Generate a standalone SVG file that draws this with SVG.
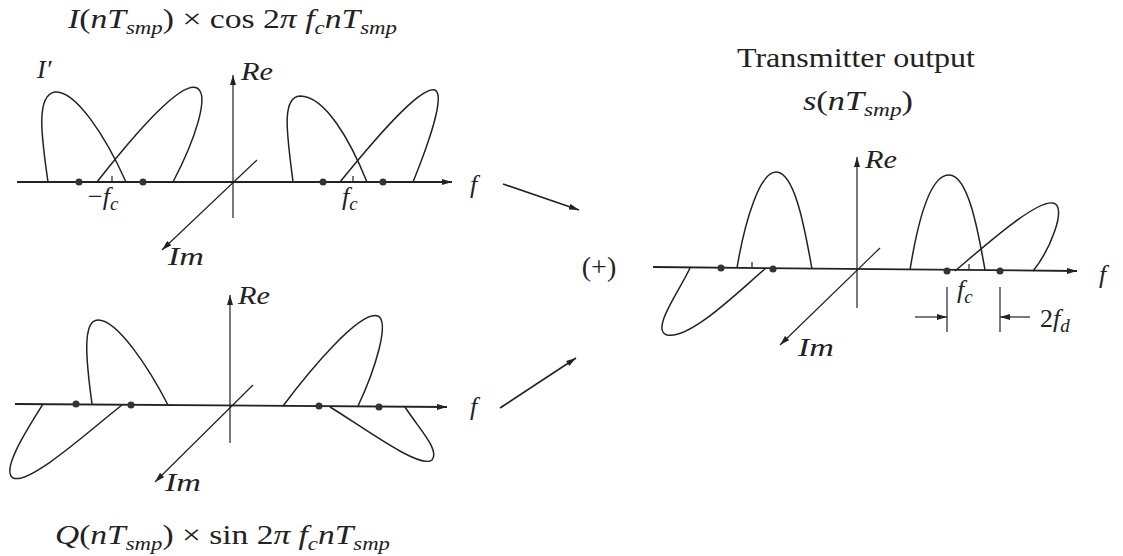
<svg xmlns="http://www.w3.org/2000/svg" width="1123" height="556" viewBox="0 0 1123 556">
<defs>
<marker id="ah" viewBox="0 0 10 6" refX="10" refY="3" markerWidth="10" markerHeight="6" markerUnits="userSpaceOnUse" orient="auto">
<path d="M0,0 L10,3 L0,6 Z" fill="#222"/>
</marker>
</defs>
<style>
text{font-family:"Liberation Serif","DejaVu Serif",serif;fill:#222;}
.t{font-size:28px;}
.l{font-size:26px;font-style:italic;}
.i{font-style:italic;}
.s{font-size:19px;font-style:italic;}
.ax{stroke:#222;stroke-width:1.8;fill:none;}
.ax2{stroke:#222;stroke-width:1.2;fill:none;}
.lobe{stroke:#222;stroke-width:1.5;fill:none;}
.dot{fill:#333;}
.cn{stroke:#222;stroke-width:1.6;fill:none;}
</style>
<rect width="1123" height="556" fill="#fff"/>

<g id="panel-i">
<text class="t" x="68" y="28" textLength="329" lengthAdjust="spacingAndGlyphs"><tspan class="i">I</tspan>(<tspan class="i">nT</tspan><tspan class="s" dy="6">smp</tspan><tspan dy="-6">) × cos 2</tspan><tspan class="i">π f</tspan><tspan class="s" dy="6">c</tspan><tspan class="i" dy="-6">nT</tspan><tspan class="s" dy="6">smp</tspan></text>
<line class="ax" x1="17" y1="182" x2="452" y2="182" marker-end="url(#ah)"/>
<line class="ax2" x1="233" y1="218" x2="233" y2="75" marker-end="url(#ah)"/>
<line class="ax2" x1="257" y1="160" x2="162" y2="250" marker-end="url(#ah)"/>
<path class="lobe" d="M48,182 C42,140 35,95 55,92 C75,90 105,135 126,182"/>
<path class="lobe" d="M97,182 C130,140 180,80 197,88 C210,95 195,140 173,182"/>
<path class="lobe" d="M293,182 C288,140 280,97 300,96 C325,96 350,140 367,182"/>
<path class="lobe" d="M340,182 C370,145 420,85 435,90 C445,95 430,140 413,182"/>
<line class="ax2" x1="112" y1="182" x2="112" y2="176"/>
<line class="ax2" x1="353" y1="182" x2="353" y2="176"/>
<circle class="dot" cx="79" cy="182" r="3.5"/>
<circle class="dot" cx="143" cy="182" r="3.5"/>
<circle class="dot" cx="323" cy="182" r="3.5"/>
<circle class="dot" cx="383" cy="182" r="3.5"/>
<text class="l" x="37" y="78">I′</text>
<text class="l" x="241" y="80" textLength="32" lengthAdjust="spacingAndGlyphs">Re</text>
<text class="l" x="168" y="265" textLength="36" lengthAdjust="spacingAndGlyphs">Im</text>
<text class="l" x="470" y="193">f</text>
<text class="l" x="88" y="205"><tspan font-style="normal">−</tspan>f<tspan class="s" dy="5">c</tspan></text>
<text class="l" x="342" y="205">f<tspan class="s" dy="5">c</tspan></text>
</g>

<g id="panel-q">
<line class="ax" x1="15" y1="404" x2="447" y2="407" marker-end="url(#ah)"/>
<line class="ax2" x1="230" y1="443" x2="230" y2="295" marker-end="url(#ah)"/>
<line class="ax2" x1="253" y1="385" x2="155" y2="482" marker-end="url(#ah)"/>
<path class="lobe" d="M92,404 C86,360 82,320 98,320 C118,320 150,370 168,405"/>
<path class="lobe" d="M43,404 C30,425 0,470 13,478 C30,485 90,430 122,405"/>
<path class="lobe" d="M283,406 C310,370 360,310 378,316 C390,322 375,370 358,406"/>
<path class="lobe" d="M330,407 C360,425 420,470 432,460 C440,450 420,430 405,407"/>
<circle class="dot" cx="76" cy="404" r="3.5"/>
<circle class="dot" cx="131" cy="405" r="3.5"/>
<circle class="dot" cx="319" cy="406" r="3.5"/>
<circle class="dot" cx="379" cy="407" r="3.5"/>
<text class="l" x="238" y="304" textLength="32" lengthAdjust="spacingAndGlyphs">Re</text>
<text class="l" x="165" y="491" textLength="36" lengthAdjust="spacingAndGlyphs">Im</text>
<text class="l" x="470" y="415">f</text>
<text class="t" x="55" y="544" textLength="335" lengthAdjust="spacingAndGlyphs"><tspan class="i">Q</tspan>(<tspan class="i">nT</tspan><tspan class="s" dy="6">smp</tspan><tspan dy="-6">) × sin 2</tspan><tspan class="i">π f</tspan><tspan class="s" dy="6">c</tspan><tspan class="i" dy="-6">nT</tspan><tspan class="s" dy="6">smp</tspan></text>
</g>

<g id="sum">
<text class="t" x="599" y="276" text-anchor="middle" font-size="30">(+)</text>
</g>

<g id="panel-s">
<text class="t" x="737" y="67" font-size="30" textLength="238" lengthAdjust="spacingAndGlyphs">Transmitter output</text>
<text class="t" x="803" y="110" textLength="110" lengthAdjust="spacingAndGlyphs"><tspan class="i">s</tspan>(<tspan class="i">nT</tspan><tspan class="s" dy="6">smp</tspan><tspan dy="-6">)</tspan></text>
<line class="ax" x1="653" y1="267" x2="1077" y2="271" marker-end="url(#ah)"/>
<line class="ax2" x1="857" y1="308" x2="857" y2="157" marker-end="url(#ah)"/>
<line class="ax2" x1="880" y1="248" x2="780" y2="345" marker-end="url(#ah)"/>
<path class="lobe" d="M737,268 C745,220 760,172 776,172 C795,172 805,230 812,269"/>
<path class="lobe" d="M690,268 C680,290 650,330 667,335 C690,340 740,290 765,269"/>
<path class="lobe" d="M910,270 C918,220 930,175 949,175 C968,175 978,230 985,270"/>
<path class="lobe" d="M955,271 C980,250 1035,200 1053,203 C1068,206 1050,250 1033,271"/>
<line class="ax2" x1="752" y1="268" x2="752" y2="262"/>
<line class="ax2" x1="969" y1="270" x2="969" y2="264"/>
<circle class="dot" cx="721" cy="268" r="3.5"/>
<circle class="dot" cx="773" cy="269" r="3.5"/>
<circle class="dot" cx="947" cy="271" r="3.5"/>
<circle class="dot" cx="1000" cy="271" r="3.5"/>
<line class="ax2" x1="947" y1="287" x2="947" y2="332"/>
<line class="ax2" x1="1000" y1="287" x2="1000" y2="332"/>
<line class="ax2" x1="915" y1="317" x2="947" y2="317" marker-end="url(#ah)"/>
<line class="ax2" x1="1030" y1="317" x2="1000" y2="317" marker-end="url(#ah)"/>
<text class="l" x="865" y="168" textLength="32" lengthAdjust="spacingAndGlyphs">Re</text>
<text class="l" x="798" y="356" textLength="36" lengthAdjust="spacingAndGlyphs">Im</text>
<text class="l" x="1099" y="283">f</text>
<text class="l" x="957" y="298">f<tspan class="s" dy="5">c</tspan></text>
<text class="l" x="1040" y="327"><tspan font-style="normal">2</tspan>f<tspan class="s" dy="5">d</tspan></text>
</g>

<g id="connectors">
<line class="cn" x1="503" y1="184" x2="579" y2="210" marker-end="url(#ah)"/>
<line class="cn" x1="500" y1="408" x2="576" y2="358" marker-end="url(#ah)"/>
</g>
</svg>
